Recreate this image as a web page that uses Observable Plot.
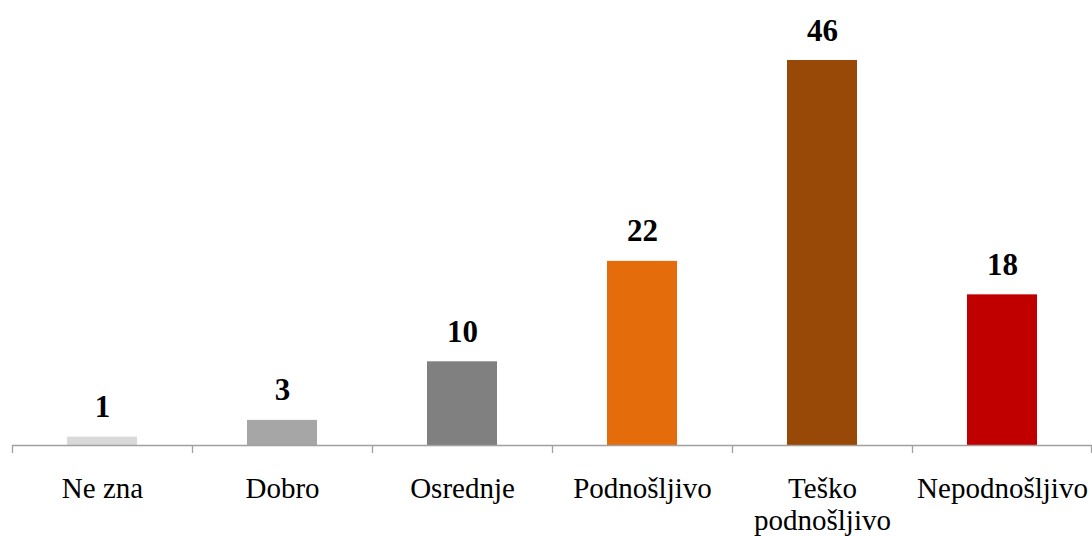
<!DOCTYPE html>
<html>
<head>
<meta charset="utf-8">
<script src="https://cdn.jsdelivr.net/npm/d3@7"></script>
<script src="https://cdn.jsdelivr.net/npm/@observablehq/plot@0.6"></script>
<style>
  html, body { margin: 0; padding: 0; background: #ffffff; }
  #chart svg { display: block; }
</style>
</head>
<body>
<div id="chart"></div>
<script>
const categories = ["Ne zna", "Dobro", "Osrednje", "Podnošljivo", "Teško podnošljivo", "Nepodnošljivo"];
const tickLabels = ["Ne zna", "Dobro", "Osrednje", "Podnošljivo", "Teško\npodnošljivo", "Nepodnošljivo"];
const values = [1, 3, 10, 22, 46, 18];
const colors = ["#D9D9D9", "#A6A6A6", "#808080", "#E46C0A", "#984807", "#C00000"];

const data = categories.map((c, i) => ({cat: c, value: values[i], color: colors[i]}));
const axisColor = "#a0a0a0";

const chart = Plot.plot({
  width: 1092,
  height: 536,
  marginLeft: 12,
  marginRight: 0,
  marginTop: 60,
  marginBottom: 91,
  style: {fontFamily: "'Liberation Serif', serif", background: "#ffffff", color: "#000"},
  x: {domain: categories, paddingInner: 0.61, paddingOuter: 0.305, axis: null, label: null},
  y: {domain: [0, 46], axis: null},
  color: {type: "identity"},
  marks: [
    Plot.barY(data, {x: "cat", y: "value", fill: "color"}),
    Plot.ruleY([0], {stroke: axisColor, strokeWidth: 1.3}),
    Plot.axisX({tickSize: 8, tickFormat: () => "", dx: -90, stroke: axisColor, strokeWidth: 1.3, label: null}),
    Plot.axisX([categories[categories.length - 1]], {tickSize: 8, tickFormat: () => "", dx: 89, stroke: axisColor, strokeWidth: 1.3, label: null}),
    Plot.axisX({tickSize: 0, tickPadding: 30, tickFormat: (d) => tickLabels[categories.indexOf(d)], fontSize: 29, lineHeight: 1.1, fill: "#000", label: null}),
    Plot.text(data, {x: "cat", y: "value", text: d => String(d.value), lineAnchor: "bottom", dy: -20, fontWeight: "bold", fontSize: 31, fill: "#000"})
  ]
});
document.getElementById("chart").appendChild(chart);
</script>
</body>
</html>
